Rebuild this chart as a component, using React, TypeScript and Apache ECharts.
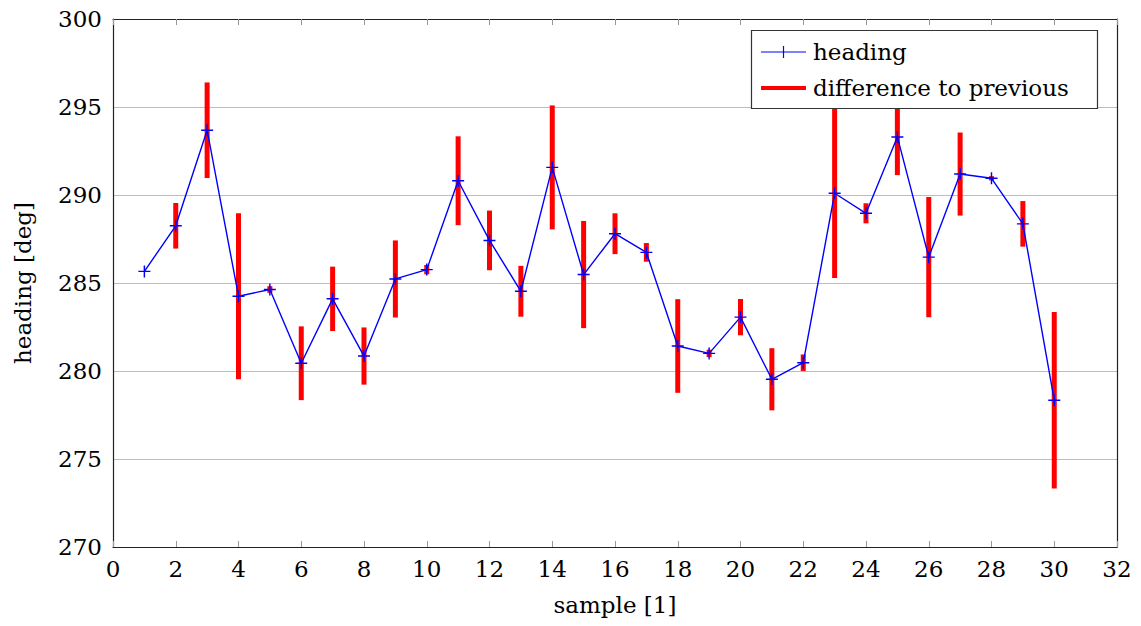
import React, { useEffect, useRef } from "react";
import * as echarts from "echarts";

// Sample index and measured heading (deg)
const samples = [1, 2, 3, 4, 5, 6, 7, 8, 9, 10, 11, 12, 13, 14, 15, 16, 17, 18, 19, 20, 21, 22, 23, 24, 25, 26, 27, 28, 29, 30];
const heading = [
  285.66, 288.25, 293.68, 284.25, 284.63, 280.44, 284.1, 280.85, 285.23, 285.76,
  290.81, 287.42, 284.53, 291.57, 285.48, 287.8, 286.74, 281.42, 281.0, 283.06,
  279.53, 280.47, 290.1, 288.96, 293.3, 286.47, 291.19, 290.95, 288.36, 278.34,
];

const xTicks = [0, 2, 4, 6, 8, 10, 12, 14, 16, 18, 20, 22, 24, 26, 28, 30, 32];
const yTicks = [270, 275, 280, 285, 290, 295, 300];

const FONT = "DejaVu Serif";
const FS = 23;

export default function App() {
  const ref = useRef<HTMLDivElement>(null);

  useEffect(() => {
    if (!ref.current) return;
    const chart = echarts.init(ref.current, undefined, { renderer: "svg" });

    const lineData = samples.map((s, i) => [s, heading[i]]);
    // bar centred on each sample, length = change from the previous sample
    const diffData = samples.slice(1).map((s, k) => [
      s,
      heading[k + 1],
      Math.abs(heading[k + 1] - heading[k]),
    ]);

    const plus = "path://M0,4.4H10V5.6H0Z M4.4,0H5.6V10H4.4Z";

    const axisLabel = { fontFamily: FONT, fontSize: FS, color: "#000" };

    chart.setOption({
      animation: false,
      grid: { left: 113, top: 19, width: 1004, height: 528, containLabel: false },
      xAxis: [
        {
          type: "value",
          min: xTicks[0],
          max: xTicks[xTicks.length - 1],
          interval: 2,
          position: "bottom",
          name: "sample [1]",
          nameLocation: "middle",
          nameGap: 46,
          nameTextStyle: { fontFamily: FONT, fontSize: FS, color: "#000" },
          axisLine: { show: true, onZero: false, lineStyle: { color: "#222", width: 1.2 } },
          axisTick: { show: true, inside: true, length: 6, lineStyle: { color: "#999" } },
          axisLabel: { ...axisLabel, margin: 10 },
          splitLine: { show: false },
        },
        {
          type: "value",
          min: xTicks[0],
          max: xTicks[xTicks.length - 1],
          interval: 2,
          position: "top",
          axisLine: { show: true, onZero: false, lineStyle: { color: "#222", width: 1.2 } },
          axisTick: { show: true, inside: true, length: 6, lineStyle: { color: "#999" } },
          axisLabel: { show: false },
          splitLine: { show: false },
        },
      ],
      yAxis: [
        {
          type: "value",
          min: yTicks[0],
          max: yTicks[yTicks.length - 1],
          interval: 5,
          position: "left",
          name: "heading [deg]",
          nameLocation: "middle",
          nameRotate: 90,
          nameGap: 79,
          nameTextStyle: { fontFamily: FONT, fontSize: FS, color: "#000" },
          axisLine: { show: true, onZero: false, lineStyle: { color: "#222", width: 1.2 } },
          axisTick: { show: false },
          axisLabel: { ...axisLabel, margin: 11 },
          splitLine: { show: true, lineStyle: { color: "#bdbdbd", width: 1.2 } },
        },
        {
          type: "value",
          min: yTicks[0],
          max: yTicks[yTicks.length - 1],
          interval: 5,
          position: "right",
          axisLine: { show: true, onZero: false, lineStyle: { color: "#222", width: 1.2 } },
          axisTick: { show: false },
          axisLabel: { show: false },
          splitLine: { show: false },
        },
      ],
      series: [
        {
          name: "difference to previous",
          type: "custom",
          xAxisIndex: 0,
          yAxisIndex: 0,
          z: 1,
          data: diffData,
          renderItem: (params: any, api: any) => {
            const x = api.value(0);
            const v = api.value(1);
            const d = api.value(2);
            const top = api.coord([x, v + d / 2]);
            const bot = api.coord([x, v - d / 2]);
            return {
              type: "rect",
              shape: { x: top[0] - 2.5, y: top[1], width: 5, height: bot[1] - top[1] },
              style: { fill: "#ff0000" },
            };
          },
        },
        {
          name: "heading",
          type: "line",
          xAxisIndex: 0,
          yAxisIndex: 0,
          z: 3,
          data: lineData,
          lineStyle: { color: "#0000ff", width: 1.4 },
          itemStyle: { color: "#0000ff" },
          symbol: plus,
          symbolSize: 12,
          showSymbol: true,
        },
      ],
      graphic: [
        {
          type: "group",
          z: 100,
          children: [
            {
              type: "rect",
              shape: { x: 751.5, y: 30.5, width: 346, height: 78 },
              style: { fill: "#fff", stroke: "#333", lineWidth: 1.2 },
              z: 100,
            },
            {
              type: "line",
              shape: { x1: 761, y1: 52, x2: 806, y2: 52 },
              style: { stroke: "#0000ff", lineWidth: 1.2 },
              z: 101,
            },
            {
              type: "line",
              shape: { x1: 783.5, y1: 46, x2: 783.5, y2: 58 },
              style: { stroke: "#0000ff", lineWidth: 1.2 },
              z: 101,
            },
            {
              type: "text",
              x: 813,
              y: 52,
              style: { text: "heading", font: `${FS}px '${FONT}'`, fill: "#000", verticalAlign: "middle" },
              z: 101,
            },
            {
              type: "line",
              shape: { x1: 761, y1: 88, x2: 806, y2: 88 },
              style: { stroke: "#ff0000", lineWidth: 4 },
              z: 101,
            },
            {
              type: "text",
              x: 813,
              y: 88,
              style: {
                text: "difference to previous",
                font: `${FS}px '${FONT}'`,
                fill: "#000",
                verticalAlign: "middle",
              },
              z: 101,
            },
          ],
        },
      ],
    });

    return () => chart.dispose();
  }, []);

  return (
    <div
      ref={ref}
      style={{ position: "fixed", left: 0, top: 0, width: 1141, height: 626, background: "#fff" }}
    />
  );
}
